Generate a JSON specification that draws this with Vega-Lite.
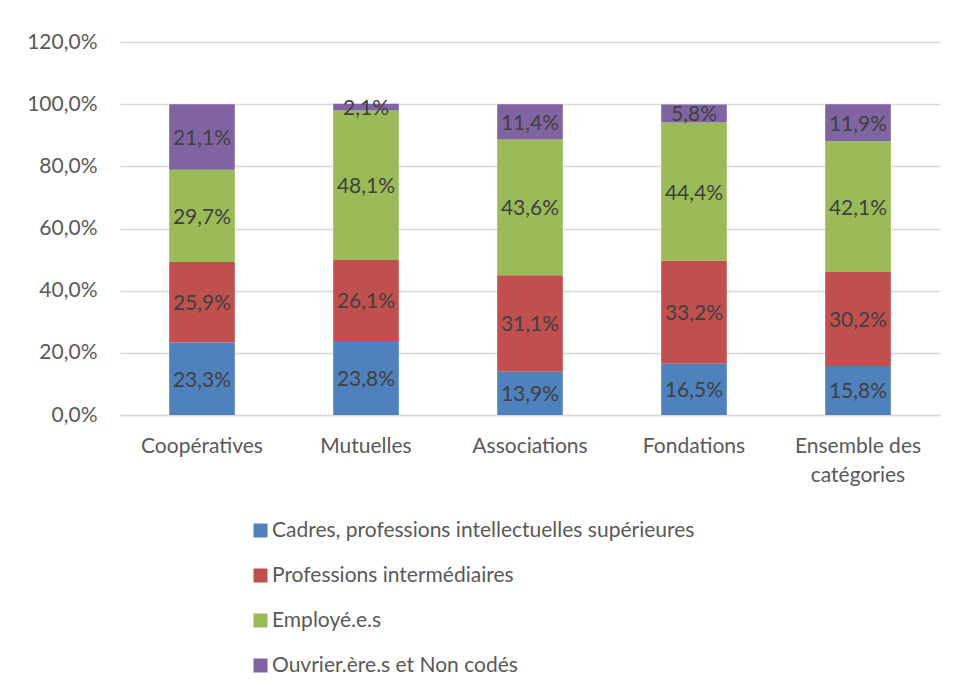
{
  "$schema": "https://vega.github.io/schema/vega-lite/v6.json",
  "width": 820,
  "height": 373,
  "autosize": {"type": "none"},
  "padding": {"left": 120, "top": 42, "right": 17, "bottom": 276},
  "background": "white",
  "config": {
    "locale": {"number": {"decimal": ",", "thousands": " ", "grouping": [3], "currency": ["", " €"]}},
    "view": {"stroke": null},
    "font": "Lato"
  },
  "data": {
    "values": [
      {"cat": "Coopératives", "groupe": "Cadres, professions intellectuelles supérieures", "v": 0.233},
      {"cat": "Coopératives", "groupe": "Professions intermédiaires", "v": 0.259},
      {"cat": "Coopératives", "groupe": "Employé.e.s", "v": 0.297},
      {"cat": "Coopératives", "groupe": "Ouvrier.ère.s et Non codés", "v": 0.211},
      {"cat": "Mutuelles", "groupe": "Cadres, professions intellectuelles supérieures", "v": 0.238},
      {"cat": "Mutuelles", "groupe": "Professions intermédiaires", "v": 0.261},
      {"cat": "Mutuelles", "groupe": "Employé.e.s", "v": 0.481},
      {"cat": "Mutuelles", "groupe": "Ouvrier.ère.s et Non codés", "v": 0.021},
      {"cat": "Associations", "groupe": "Cadres, professions intellectuelles supérieures", "v": 0.139},
      {"cat": "Associations", "groupe": "Professions intermédiaires", "v": 0.311},
      {"cat": "Associations", "groupe": "Employé.e.s", "v": 0.436},
      {"cat": "Associations", "groupe": "Ouvrier.ère.s et Non codés", "v": 0.114},
      {"cat": "Fondations", "groupe": "Cadres, professions intellectuelles supérieures", "v": 0.165},
      {"cat": "Fondations", "groupe": "Professions intermédiaires", "v": 0.332},
      {"cat": "Fondations", "groupe": "Employé.e.s", "v": 0.444},
      {"cat": "Fondations", "groupe": "Ouvrier.ère.s et Non codés", "v": 0.058},
      {"cat": "Ensemble des catégories", "groupe": "Cadres, professions intellectuelles supérieures", "v": 0.158},
      {"cat": "Ensemble des catégories", "groupe": "Professions intermédiaires", "v": 0.302},
      {"cat": "Ensemble des catégories", "groupe": "Employé.e.s", "v": 0.421},
      {"cat": "Ensemble des catégories", "groupe": "Ouvrier.ère.s et Non codés", "v": 0.119}
    ]
  },
  "transform": [
    {"calculate": "indexof(['Cadres, professions intellectuelles supérieures','Professions intermédiaires','Employé.e.s','Ouvrier.ère.s et Non codés'], datum.groupe)", "as": "ord"},
    {"stack": "v", "groupby": ["cat"], "sort": [{"field": "ord", "order": "ascending"}], "as": ["v0", "v1"]},
    {"calculate": "(datum.v0 + datum.v1) / 2", "as": "mid"}
  ],
  "encoding": {
    "x": {
      "field": "cat",
      "type": "nominal",
      "sort": ["Coopératives", "Mutuelles", "Associations", "Fondations", "Ensemble des catégories"],
      "scale": {"paddingInner": 0.6, "paddingOuter": 0.3},
      "axis": {
        "title": null,
        "labelAngle": 0,
        "labelFontSize": 21,
        "labelColor": "#595959",
        "labelPadding": 20,
        "ticks": false,
        "domain": true,
        "domainColor": "#d9d9d9",
        "domainWidth": 1.5,
        "grid": false,
        "labelLineHeight": 29,
        "labelExpr": "datum.label == 'Ensemble des catégories' ? ['Ensemble des', 'catégories'] : datum.label"
      }
    }
  },
  "layer": [
    {
      "mark": {"type": "bar"},
      "encoding": {
        "y": {
          "field": "v0",
          "type": "quantitative",
          "scale": {"domain": [0, 1.2], "nice": false},
          "axis": {
            "title": null,
            "values": [0, 0.2, 0.4, 0.6, 0.8, 1.0, 1.2],
            "format": ".1%",
            "labelFontSize": 21,
            "labelColor": "#595959",
            "labelPadding": 23,
            "domain": false,
            "ticks": false,
            "grid": true,
            "gridColor": "#d9d9d9",
            "gridWidth": 1.5
          }
        },
        "y2": {"field": "v1"},
        "color": {
          "field": "groupe",
          "type": "nominal",
          "scale": {
            "domain": ["Cadres, professions intellectuelles supérieures", "Professions intermédiaires", "Employé.e.s", "Ouvrier.ère.s et Non codés"],
            "range": ["#4f81bd", "#c0504d", "#9bbb59", "#8064a2"]
          },
          "legend": {
            "title": null,
            "orient": "none",
            "legendX": 130,
            "legendY": 478,
            "direction": "vertical",
            "symbolType": "square",
            "symbolSize": 196,
            "symbolStrokeWidth": 0,
            "labelFontSize": 21,
            "labelColor": "#595959",
            "labelOffset": 1,
            "labelLimit": 800,
            "rowPadding": 23,
            "padding": 0
          }
        }
      }
    },
    {
      "mark": {"type": "text", "fontSize": 21, "color": "#404040", "dy": 2},
      "encoding": {
        "y": {"field": "mid", "type": "quantitative"},
        "text": {"field": "v", "type": "quantitative", "format": ".1%"}
      }
    }
  ]
}
